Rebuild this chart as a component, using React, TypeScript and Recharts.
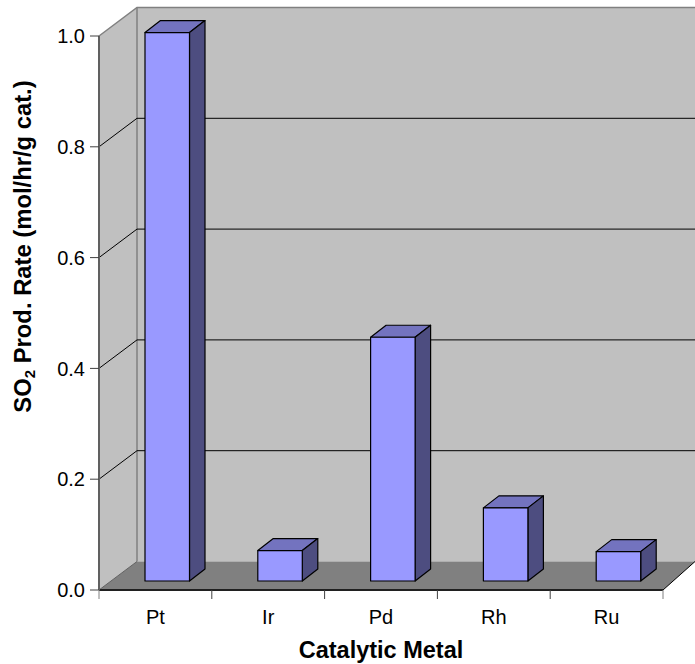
import React from 'react';
import { BarChart, Bar, XAxis, YAxis, CartesianGrid } from 'recharts';

const metals = ['Pt', 'Ir', 'Pd', 'Rh', 'Ru'];
const rates = [0.99, 0.055, 0.44, 0.132, 0.053];
const yTicks = [0, 0.2, 0.4, 0.6, 0.8, 1.0];

const data = metals.map((metal, i) => ({ metal, rate: rates[i] }));

const WIDTH = 695;
const HEIGHT = 664;
const FONT = '"Liberation Sans", Arial, sans-serif';

// plot box (front plane of the fake 3D box)
const LEFT = 99;
const RIGHT = 663;
const TOP = 36;
const BOTTOM = 590;
const BAND = (RIGHT - LEFT) / metals.length;

// depth of the box and of the bars
const DEPTH_X = 38;
const DEPTH_Y = 28.5;
const BAR_DX = 12;
const BAR_DY = 9;
const SIDE_X = 15.5;
const SIDE_Y = 12;

const EDGE = '#808080';

// sits behind the chart, recharts puts the grid under its own children
const Walls = () => (
  <svg width={WIDTH} height={HEIGHT} style={{ position: 'absolute', left: 0, top: 0 }}>
    <polygon
      points={`${LEFT + DEPTH_X},${TOP - DEPTH_Y} ${WIDTH},${TOP - DEPTH_Y} ${WIDTH},${BOTTOM - DEPTH_Y} ${LEFT + DEPTH_X},${BOTTOM - DEPTH_Y}`}
      fill="#c0c0c0"
    />
    <polygon
      points={`${LEFT},${TOP} ${LEFT + DEPTH_X},${TOP - DEPTH_Y} ${LEFT + DEPTH_X},${BOTTOM - DEPTH_Y} ${LEFT},${BOTTOM}`}
      fill="#c0c0c0"
    />
    <polygon
      points={`${LEFT},${BOTTOM} ${LEFT + DEPTH_X},${BOTTOM - DEPTH_Y} ${WIDTH},${BOTTOM - DEPTH_Y} ${RIGHT},${BOTTOM}`}
      fill="#808080"
    />
    <polyline
      points={`${LEFT},${TOP} ${LEFT + DEPTH_X},${TOP - DEPTH_Y} ${WIDTH},${TOP - DEPTH_Y}`}
      fill="none"
      stroke={EDGE}
      strokeWidth={1.5}
    />
    <line x1={LEFT + DEPTH_X} y1={TOP - DEPTH_Y} x2={LEFT + DEPTH_X} y2={BOTTOM - DEPTH_Y} stroke={EDGE} strokeWidth={1.5} />
    <line x1={LEFT} y1={BOTTOM} x2={LEFT + DEPTH_X} y2={BOTTOM - DEPTH_Y} stroke="#606060" strokeWidth={1} />
    <line x1={RIGHT} y1={BOTTOM} x2={WIDTH} y2={BOTTOM - DEPTH_Y} stroke="#000" strokeWidth={1} />
  </svg>
);

const gridLine = (props: any) => {
  const y = props.y1;
  // top and bottom of the box are drawn with the walls
  if (y <= TOP + 1 || y >= BOTTOM - 1) return <g key={props.key} />;
  return (
    <polyline
      key={props.key}
      points={`${LEFT},${y} ${LEFT + DEPTH_X},${y - DEPTH_Y} ${WIDTH},${y - DEPTH_Y}`}
      fill="none"
      stroke="#000"
      strokeWidth={1}
    />
  );
};

const Bar3D = (props: any) => {
  const x = props.x + BAR_DX;
  const y = props.y - BAR_DY;
  const w = props.width;
  const h = props.height;
  return (
    <g stroke="#000" strokeWidth={1.2} strokeLinejoin="round">
      <polygon
        points={`${x},${y} ${x + SIDE_X},${y - SIDE_Y} ${x + w + SIDE_X},${y - SIDE_Y} ${x + w},${y}`}
        fill="#7373bf"
      />
      <polygon
        points={`${x + w},${y} ${x + w + SIDE_X},${y - SIDE_Y} ${x + w + SIDE_X},${y + h - SIDE_Y} ${x + w},${y + h}`}
        fill="#4d4d80"
      />
      <rect x={x} y={y} width={w} height={h} fill="#9999ff" />
    </g>
  );
};

const XTick = (props: any) => {
  const { x, index, payload } = props;
  const left = x - BAND / 2;
  return (
    <g>
      <line x1={left} y1={BOTTOM} x2={left} y2={BOTTOM + 9} stroke={index === 0 ? EDGE : '#404040'} />
      {index === metals.length - 1 && (
        <line x1={left + BAND} y1={BOTTOM} x2={left + BAND} y2={BOTTOM + 9} stroke={EDGE} />
      )}
      <text x={x} y={624} textAnchor="middle" fontSize={20} fontFamily={FONT} fill="#000">
        {payload.value}
      </text>
    </g>
  );
};

const YTitle = () => (
  <text
    transform="translate(31,246.5) rotate(-90)"
    textAnchor="middle"
    fontSize={23.8}
    fontWeight="bold"
    fontFamily={FONT}
    fill="#000"
  >
    SO
    <tspan fontSize={15} dy={4}>2</tspan>
    <tspan dy={-4}> Prod. Rate (mol/hr/g cat.)</tspan>
  </text>
);

const XTitle = () => (
  <text x={381} y={658} textAnchor="middle" fontSize={23.5} fontWeight="bold" fontFamily={FONT} fill="#000">
    Catalytic Metal
  </text>
);

export default function App() {
  return (
    <div style={{ position: 'absolute', left: 0, top: 0 }}>
      <Walls />
      <BarChart
        width={WIDTH}
        height={HEIGHT}
        data={data}
        margin={{ top: TOP, right: WIDTH - RIGHT, bottom: 0, left: 0 }}
      >
        <CartesianGrid vertical={false} horizontal={gridLine} />
        <XAxis
          dataKey="metal"
          height={HEIGHT - BOTTOM}
          axisLine={{ stroke: '#202020', strokeWidth: 2 }}
          tickLine={false}
          tick={XTick}
          interval={0}
        />
        <YAxis
          width={LEFT}
          domain={[0, 1]}
          ticks={yTicks}
          tickFormatter={(v: number) => v.toFixed(1)}
          axisLine={{ stroke: '#606060', strokeWidth: 2 }}
          tickLine={{ stroke: '#404040' }}
          tickSize={9}
          tickMargin={5}
          tick={{ fontSize: 20, fontFamily: FONT, fill: '#000' }}
        />
        <Bar dataKey="rate" barSize={44.5} shape={Bar3D} isAnimationActive={false} />
        <YTitle />
        <XTitle />
      </BarChart>
    </div>
  );
}
